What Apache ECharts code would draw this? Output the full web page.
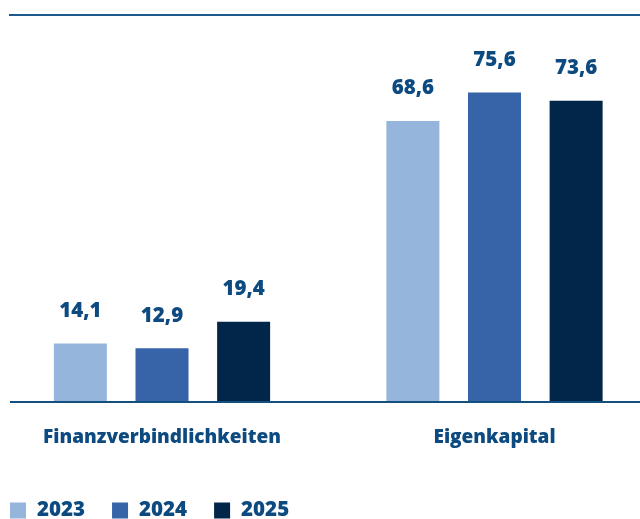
<!DOCTYPE html>
<html><head><meta charset="utf-8">
<script src="https://cdn.jsdelivr.net/npm/echarts@6/dist/echarts.min.js"></script>
<style>html,body{margin:0;padding:0;background:#fff}#c{width:640px;height:519px}</style>
</head><body><div id="c"></div>
<script>
var categories = ["Finanzverbindlichkeiten", "Eigenkapital"];
var years = ["2023", "2024", "2025"];
var values2023 = [14.1, 68.6];
var values2024 = [12.9, 75.6];
var values2025 = [19.4, 73.6];
var colors = ["#95b5dc", "#3763a8", "#022649"];
var textColor = "#0d4a80";
var font = "'Open Sans', 'Noto Sans', sans-serif";
var seriesValues = [values2023, values2024, values2025];

var chart = echarts.init(document.getElementById('c'), null, {renderer: 'canvas'});
var series = years.map(function (y, i) {
  return {
    name: y, type: 'bar', data: seriesValues[i], barWidth: 53, barGap: '54%',
    clip: false,
    itemStyle: {color: colors[i]},
    label: {show: true, position: 'top', distance: 22, color: textColor,
      fontFamily: font, fontWeight: 800, fontSize: 20.5,
      formatter: function (p) { return p.value.toFixed(1).replace('.', ','); }}
  };
});
chart.setOption({
  animation: false,
  grid: {left: 162, right: 145.5, top: 15, height: 386},
  xAxis: {type: 'category', data: categories, boundaryGap: false,
    axisLine: {show: false}, axisTick: {show: false},
    axisLabel: {color: textColor, fontFamily: font, fontWeight: 800, fontSize: 19, margin: 27}},
  yAxis: {type: 'value', min: 0, max: 94.6, show: false, splitLine: {show: false}},
  legend: {left: 10, top: 500, padding: 0, itemWidth: 16, itemHeight: 16, itemGap: 27,
    icon: 'rect',
    textStyle: {color: textColor, fontFamily: font, fontWeight: 800, fontSize: 20.5, padding: [0, 0, 0, 6]}},
  graphic: [
    {type: 'rect', shape: {x: 9, y: 14, width: 640, height: 2}, style: {fill: '#1c5a8e'}},
    {type: 'rect', shape: {x: 10, y: 401, width: 640, height: 2}, style: {fill: '#14507f'}}
  ],
  series: series
});
</script></body></html>
